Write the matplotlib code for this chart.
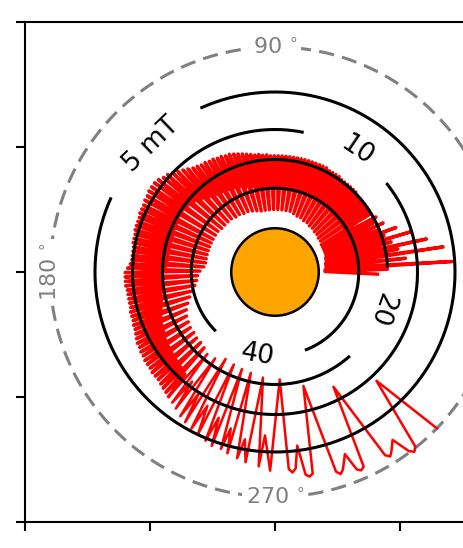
import numpy as np
import matplotlib
matplotlib.use("Agg")
import matplotlib.pyplot as plt
from matplotlib.patches import Circle

start_deg = [-1.2, 0.5, 1.4, 2.3, 3.4, 4.6, 6.0, 7.2, 8.5, 9.6, 10.6, 11.4, 12.3, 13.4,
             14.5, 15.5, 16.5, 17.5, 18.5, 19.3, 20.2, 21.2, 22.2, 23.2, 24.4, 25.5,
             26.6, 27.6, 28.6]
start_r = [8.2, 4.0, 9.0, 4.0, 14.2, 4.1, 10.5, 4.1, 13.6, 4.1, 10.0, 4.2, 12.4, 4.2,
           9.6, 4.2, 11.3, 4.3, 9.2, 4.3, 10.3, 4.3, 9.0, 4.3, 9.5, 4.3,
           8.8, 4.3, 9.2]

upper_deg = [30.5, 31.4, 32.4, 33.3, 34.3, 35.2, 36.2, 37.1,
             38.1, 39.0, 40.0, 40.9, 41.9, 42.8, 43.8, 44.7,
             45.7, 46.6, 47.6, 48.5, 49.5, 50.4, 51.4, 52.3,
             53.3, 54.2, 55.2, 56.1, 57.1, 58.0, 59.0, 59.9,
             60.9, 61.8, 62.8, 63.7, 64.7, 65.6, 66.6, 67.5,
             68.5, 69.4, 70.4, 71.3, 72.3, 73.2, 74.2, 75.1,
             76.1, 77.0, 78.0, 78.9, 79.9, 80.8, 81.8, 82.7,
             83.7, 84.6, 85.6, 86.5, 87.5, 88.4, 89.4, 90.3,
             91.3, 92.2, 93.2, 94.1, 95.1, 96.0, 97.0, 97.9,
             98.9, 99.8, 100.8, 101.7, 102.7, 103.6, 104.6, 105.5,
             106.5, 107.4, 108.4, 109.3, 110.3, 111.2, 112.2, 113.1,
             114.1, 115.0, 116.0, 116.9, 117.9, 118.8, 119.8, 120.7,
             121.7, 122.6, 123.6, 124.5, 125.5, 126.4, 127.4, 128.3,
             129.3, 130.2, 131.2, 132.1, 133.1, 134.0, 135.0, 135.9,
             136.9, 137.8, 138.8, 139.7, 140.7, 141.6, 142.6, 143.5,
             144.5, 145.4, 146.4, 147.3, 148.3, 149.2, 150.2, 151.1]
upper_r = [4.3, 9.0, 6.6, 9.0, 4.4, 9.0, 6.6, 9.0,
           4.4, 9.0, 6.6, 9.0, 4.5, 9.0, 6.6, 9.1,
           4.5, 9.1, 6.7, 9.1, 4.6, 9.1, 6.7, 9.1,
           4.6, 9.1, 6.7, 9.2, 4.7, 9.2, 6.7, 9.2,
           4.7, 9.2, 6.7, 9.3, 4.8, 9.3, 6.8, 9.3,
           4.8, 9.3, 6.8, 9.3, 4.9, 9.3, 6.8, 9.3,
           5.0, 9.3, 6.8, 9.3, 5.0, 9.3, 6.8, 9.3,
           5.0, 9.3, 6.8, 9.3, 5.0, 9.3, 6.8, 9.3,
           5.0, 9.3, 6.8, 9.4, 5.0, 9.4, 6.9, 9.5,
           5.0, 9.5, 7.0, 9.6, 5.0, 9.7, 7.1, 9.8,
           5.1, 9.9, 7.2, 10.0, 5.2, 10.1, 7.4, 10.1,
           5.3, 10.2, 7.5, 10.2, 5.3, 10.3, 7.6, 10.3,
           5.4, 10.4, 7.7, 10.4, 5.4, 10.5, 7.8, 10.6,
           5.5, 10.8, 8.0, 11.0, 5.5, 11.2, 8.3, 11.4,
           5.5, 11.6, 8.6, 11.7, 5.5, 11.9, 8.8, 12.0,
           5.6, 12.0, 8.9, 12.0, 5.6, 11.9, 8.9, 11.9]

left_deg = [152.1, 153.0, 153.8, 154.7, 155.5, 156.4, 157.2, 158.1,
            158.9, 159.8, 160.6, 161.5, 162.3, 163.2, 164.0, 164.9,
            165.7, 166.6, 167.4, 168.3, 169.1, 170.0, 170.8, 171.7,
            172.5, 173.4, 174.2, 175.1, 175.9, 176.8, 177.6, 178.5,
            179.3, 180.2, 181.0, 181.9, 182.7, 183.6, 184.4, 185.3,
            186.1, 187.0, 187.8, 188.7, 189.5, 190.4, 191.2, 192.1,
            192.9, 193.8, 194.6, 195.5, 196.3, 197.2, 198.0, 198.9,
            199.7, 200.6, 201.4, 202.3, 203.1, 204.0, 204.8, 205.7,
            206.5, 207.4, 208.2, 209.1, 209.9, 210.8, 211.6, 212.5,
            213.3, 214.2, 215.0, 215.9, 216.7, 217.6, 218.4, 219.3,
            220.1, 221.0, 221.8, 222.7, 223.5, 224.4, 225.2, 226.1,
            226.9, 227.8, 228.6, 229.5]
left_r = [5.6, 11.8, 8.8, 11.8, 5.6, 11.8, 8.8, 11.7,
          5.6, 11.7, 8.7, 11.7, 5.6, 11.7, 8.7, 11.6,
          5.6, 11.6, 8.7, 11.6, 5.6, 11.5, 8.7, 11.5,
          5.6, 11.5, 8.7, 11.5, 5.7, 11.6, 8.8, 11.8,
          6.0, 12.0, 9.0, 12.0, 6.2, 12.0, 9.1, 12.0,
          6.3, 11.9, 9.2, 11.9, 6.5, 11.9, 9.3, 11.9,
          6.8, 11.9, 9.4, 12.0, 7.1, 12.0, 9.6, 12.0,
          7.4, 12.1, 9.8, 12.1, 7.7, 12.2, 10.0, 12.3,
          7.9, 12.4, 10.1, 12.4, 8.0, 12.5, 10.3, 12.5,
          8.1, 12.6, 10.4, 12.6, 8.1, 12.6, 10.5, 12.7,
          8.2, 12.7, 10.6, 12.7, 8.2, 12.8, 10.7, 12.9,
          8.3, 13.0, 10.9, 13.1]

lower_deg = [229.5, 230.5, 231.8, 232.9, 234.0, 235.3, 236.7, 237.9, 239.1,
             240.4, 241.9, 243.2, 244.6, 246.0, 247.6, 248.9, 250.0,
             251.2, 253.0, 254.2, 255.3, 256.5, 258.5, 259.8, 261.2,
             263.5, 265.2, 266.5, 268.6,
             272.5, 274.0, 275.0, 276.0, 277.3, 278.6, 279.6, 280.6,
             284.0, 287.0, 288.0, 289.0, 291.0, 292.5, 293.5, 294.5,
             297.0, 301.0, 302.0, 303.0, 305.0, 306.8, 307.8, 308.8,
             313.0, 316.0]
lower_r = [13.1, 8.5, 13.3, 11.0, 13.5, 8.4, 13.8, 11.5, 14.0,
           8.0, 14.2, 12.0, 14.4, 8.1, 14.6, 12.5, 14.8,
           8.2, 14.8, 13.0, 15.0, 8.3, 15.2, 13.6, 15.4,
           8.5, 15.6, 13.1, 15.9,
           8.6, 15.8, 16.1, 15.8, 14.0, 16.4, 16.6, 16.4,
           9.4, 16.7, 17.0, 16.7, 15.6, 17.1, 17.3, 17.1,
           10.3, 17.1, 17.4, 17.1, 16.4, 17.9, 18.2, 17.9,
           11.9, 18.0]

# contour rings of constant field strength
ring_labels = ["5 mT", "10", "20", "40"]
ring_r = [14.4, 11.4, 9.0, 6.7]
ring_from = [156, 79, 3, 292]
ring_to = [474, 398, 311, 584]
label_deg = [134, 56, -19, 258]
label_r = [14.2, 11.7, 9.0, 6.8]
label_rot = [44, -34, -109, -10]

sun_r = 3.5
horizon_r = 18.0
horizon_labels = ["90 $^{\\circ}$", "180 $^{\\circ}$", "270 $^{\\circ}$"]
horizon_deg = [90, 180, 270]
horizon_rot = [0, 90, 0]

fig = plt.figure(figsize=(4.63, 5.48), dpi=100)
rect = [25 / 463, 26 / 548, 500 / 463, 500 / 548]

ax = fig.add_axes(rect)
ax.set_xlim(-20, 20)
ax.set_ylim(-20, 20)
ax.set_xticks([-20, -10, 0, 10, 20])
ax.set_yticks([-20, -10, 0, 10, 20])
ax.tick_params(direction="out", length=6.5, width=1.5,
               labelbottom=False, labelleft=False)
for s in ax.spines.values():
    s.set_linewidth(1.5)
ax.add_patch(Circle((0, 0), sun_r, facecolor="orange", edgecolor="black",
                    linewidth=1.8, zorder=5))

pax = fig.add_axes(rect, projection="polar")
pax.set_ylim(0, 20)
pax.axis("off")

# dense part drawn a bit heavier than the open loops underneath
dense_deg = start_deg + upper_deg + left_deg
dense_r = start_r + upper_r + left_r
pax.plot(np.deg2rad(dense_deg), dense_r, color="red", linewidth=2.4, zorder=2)
pax.plot(np.deg2rad(lower_deg), lower_r, color="red", linewidth=1.8, zorder=2)

th = np.deg2rad(np.linspace(0, 360, 400))
pax.plot(th, np.full_like(th, horizon_r), color="gray", linewidth=2.2,
         dashes=(5, 2.7), zorder=1)
for lab, d, rot in zip(horizon_labels, horizon_deg, horizon_rot):
    pax.text(np.deg2rad(d), horizon_r, lab, rotation=rot, ha="center", va="center",
             rotation_mode="anchor", fontsize=16, color="gray", zorder=4,
             bbox=dict(facecolor="white", edgecolor="none", pad=2.5))

for r, a0, a1 in zip(ring_r, ring_from, ring_to):
    arc = np.deg2rad(np.linspace(a0, a1, 300))
    pax.plot(arc, np.full_like(arc, r), color="black", linewidth=2.2, zorder=3)
for lab, d, r, rot in zip(ring_labels, label_deg, label_r, label_rot):
    pax.text(np.deg2rad(d), r, lab, rotation=rot, ha="center", va="center",
             rotation_mode="anchor", fontsize=19, zorder=4)

plt.savefig("out.png", dpi=100)
plt.close()
